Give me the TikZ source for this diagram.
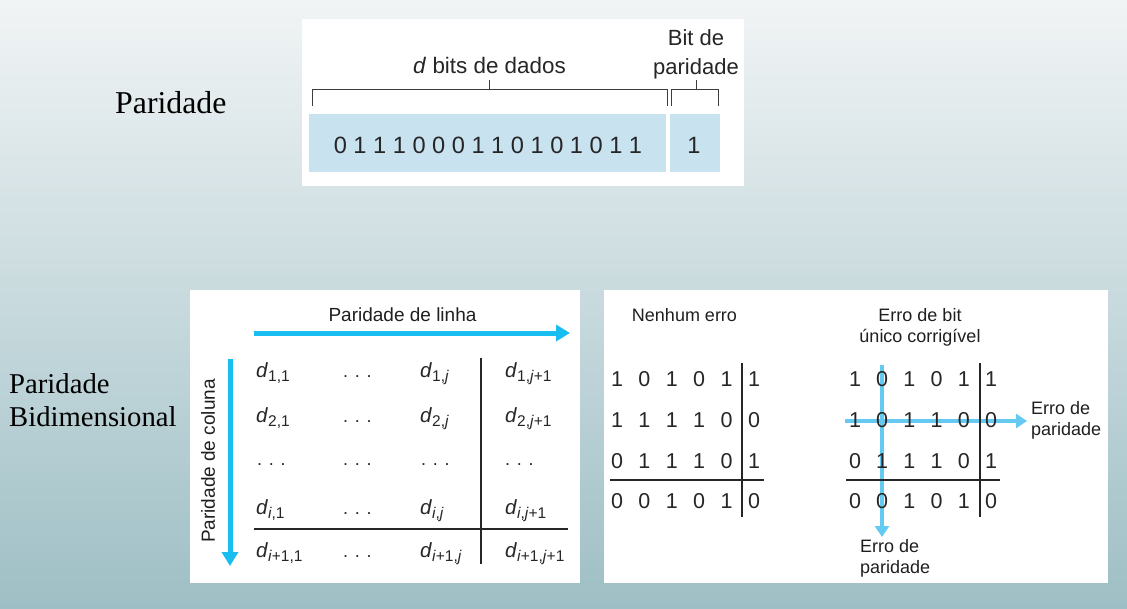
\documentclass[tikz,border=0pt]{standalone}
\usepackage{fontspec}
\setmainfont{Liberation Serif}
\newfontfamily\hsans{Liberation Sans}
\usetikzlibrary{arrows.meta}
\definecolor{bgtop}{RGB}{241,244,245}
\definecolor{bgbot}{RGB}{158,191,197}
\definecolor{cellblue}{RGB}{201,226,240}
\definecolor{arrcyan}{RGB}{25,190,240}
\definecolor{arrlight}{RGB}{100,202,242}
\definecolor{brk}{RGB}{60,60,60}
\newcommand{\dsub}[1]{{\fontsize{20.5}{22}\selectfont\textit{d}}\raisebox{-0.5ex}{\fontsize{15.5}{16}\selectfont #1}}
\begin{document}
\begin{tikzpicture}[x=1pt,y=-1pt,
  panel/.style={fill=white,draw=none},
  lbl/.style={font=\hsans\fontsize{18}{21}\selectfont,inner sep=0pt,text=black!88},
  toplbl/.style={font=\hsans\fontsize{22}{27}\selectfont,inner sep=0pt,text=black!85,align=center},
  ttl/.style={font=\fontsize{31.8}{34}\selectfont,inner sep=0pt,anchor=base west},
  ttlb/.style={font=\fontsize{28.7}{33}\selectfont,inner sep=0pt,anchor=base west},
  ent/.style={font=\hsans\fontsize{18}{21}\selectfont,inner sep=0pt,anchor=base west,text=black!85},
  bit/.style={font=\hsans\fontsize{21.5}{24}\selectfont,inner sep=0pt,anchor=base,text=black!85},
  bigarrow/.style={draw=arrcyan,line width=5pt,-{Triangle[length=14pt,width=16pt]}},
  smallarrow/.style={draw=arrlight,line width=4.5pt,-{Triangle[length=11pt,width=14pt]}},
  rule/.style={draw=black!85,line width=1.4pt},
  bracket/.style={draw=brk,line width=1pt}]
\useasboundingbox (0,0) rectangle (1127,608);
\shade[top color=bgtop,bottom color=bgbot] (0,0) rectangle (1127,608);

% ---- top panel ----
\fill[panel] (302,19) rectangle (744,186);
\fill[cellblue] (309,114) rectangle (666,172);
\fill[cellblue] (670,114) rectangle (720,172);
\node[font=\hsans\fontsize{23.6}{27}\selectfont,inner sep=0pt,anchor=base,text=black!85] (bits) at (488,153) {0 1 1 1 0 0 0 1 1 0 1 0 1 0 1 1};
\node[font=\hsans\fontsize{23.6}{27}\selectfont,inner sep=0pt,anchor=base,text=black!85] (pbit) at (694,153) {1};
\draw[bracket] (312,106) -- (312,89) -- (667.5,89) -- (667.5,106);
\draw[bracket] (671,106) -- (671,89) -- (718,89) -- (718,106);
\coordinate (dtick) at (489,80);
\coordinate (ptick) at (696,80);
\draw[bracket] (489,89) -- (dtick);
\draw[bracket] (696,89) -- (ptick);
\node[toplbl,anchor=base] (dlabel) at (489.5,73) {\fontsize{22.4}{27}\selectfont\textit{d} bits de dados};
\node[toplbl,anchor=base] (plabel1) at (696,45.5) {Bit de};
\node[toplbl,anchor=base] (plabel2) at (696,74) {paridade};

\node[ttl] (t1) at (115,113.5) {Paridade};
\node[ttlb] (t2) at (9,393) {Paridade};
\node[ttlb] (t3) at (9,426) {Bidimensional};

% ---- bottom left panel ----
\fill[panel] (190,290) rectangle (580,583);
\node[lbl,anchor=base] (rowlbl) at (402.5,321) {\fontsize{19}{21}\selectfont Paridade de linha};
\coordinate (ra0) at (254,333);
\coordinate (ra1) at (570,333);
\draw[bigarrow] (ra0) -- (ra1);
\coordinate (ca0) at (230,359);
\coordinate (ca1) at (230,566);
\draw[bigarrow] (ca0) -- (ca1);
\node[lbl,rotate=90,anchor=center] (collbl) at (208,461) {\fontsize{19}{21}\selectfont Paridade de coluna};

\draw[rule,line width=1.3pt] (481,358) -- (481,564);
\draw[rule,line width=1.3pt] (254,529) -- (568,529);

\node[ent] (m11) at (256,377) {\dsub{1,1}};
\node[ent] (m12) at (343,377) {. . .};
\node[ent] (m13) at (420,377) {\dsub{1,\textit{j}}};
\node[ent] (m14) at (505,377) {\dsub{1,\textit{j}+1}};
\node[ent] (m21) at (256,422) {\dsub{2,1}};
\node[ent] (m22) at (343,422) {. . .};
\node[ent] (m23) at (420,422) {\dsub{2,\textit{j}}};
\node[ent] (m24) at (505,422) {\dsub{2,\textit{j}+1}};
\node[ent] (m31) at (257,465) {. . .};
\node[ent] (m32) at (343,465) {. . .};
\node[ent] (m33) at (421,465) {. . .};
\node[ent] (m34) at (505,465) {. . .};
\node[ent] (m41) at (256,514) {\dsub{\textit{i},1}};
\node[ent] (m42) at (343,514) {. . .};
\node[ent] (m43) at (420,514) {\dsub{\textit{i},\textit{j}}};
\node[ent] (m44) at (505,514) {\dsub{\textit{i},\textit{j}+1}};
\node[ent] (m51) at (256,557) {\dsub{\textit{i}+1,1}};
\node[ent] (m52) at (343,557) {. . .};
\node[ent] (m53) at (420,557) {\dsub{\textit{i}+1,\textit{j}}};
\node[ent] (m54) at (505,557) {\dsub{\textit{i}+1,\textit{j}+1}};

% ---- bottom right panel ----
\fill[panel] (604,290) rectangle (1108,583);
\node[lbl,anchor=base] (h1) at (684.5,321) {Nenhum erro};
\node[lbl,anchor=base] (h2a) at (920,321) {Erro de bit};
\node[lbl,anchor=base] (h2b) at (920,342) {único corrigível};

% left grid
\draw[rule] (742,363) -- (742,517);
\draw[rule] (610,480) -- (764,480);
\foreach \r/\y/\vals in {1/386.5/{1,0,1,0,1,1},2/427/{1,1,1,1,0,0},3/468/{0,1,1,1,0,1},4/508.5/{0,0,1,0,1,0}}{
  \foreach \v [count=\c] in \vals {
    \pgfmathsetmacro{\xx}{617+(\c-1)*27.4}
    \node[bit] (a\r\c) at (\xx,\y) {\v};
  }
}

% right grid
\coordinate (ha0) at (845,421);
\coordinate (ha1) at (1027,421);
\coordinate (va0) at (882,365);
\coordinate (va1) at (882,537);
\draw[smallarrow] (ha0) -- (ha1);
\draw[smallarrow] (va0) -- (va1);
\draw[rule] (980,363) -- (980,517);
\draw[rule] (846,480) -- (1000,480);
\foreach \r/\y/\vals in {1/386.5/{1,0,1,0,1,1},2/427/{1,0,1,1,0,0},3/468/{0,1,1,1,0,1},4/508.5/{0,0,1,0,1,0}}{
  \foreach \v [count=\c] in \vals {
    \pgfmathsetmacro{\xx}{855+(\c-1)*27.2}
    \node[bit] (b\r\c) at (\xx,\y) {\v};
  }
}
\node[lbl,anchor=base west] (e1a) at (1031,414) {Erro de};
\node[lbl,anchor=base west] (e1b) at (1031,435) {paridade};
\node[lbl,anchor=base west] (e2a) at (860,552) {Erro de};
\node[lbl,anchor=base west] (e2b) at (860,573) {paridade};
\end{tikzpicture}
\end{document}
